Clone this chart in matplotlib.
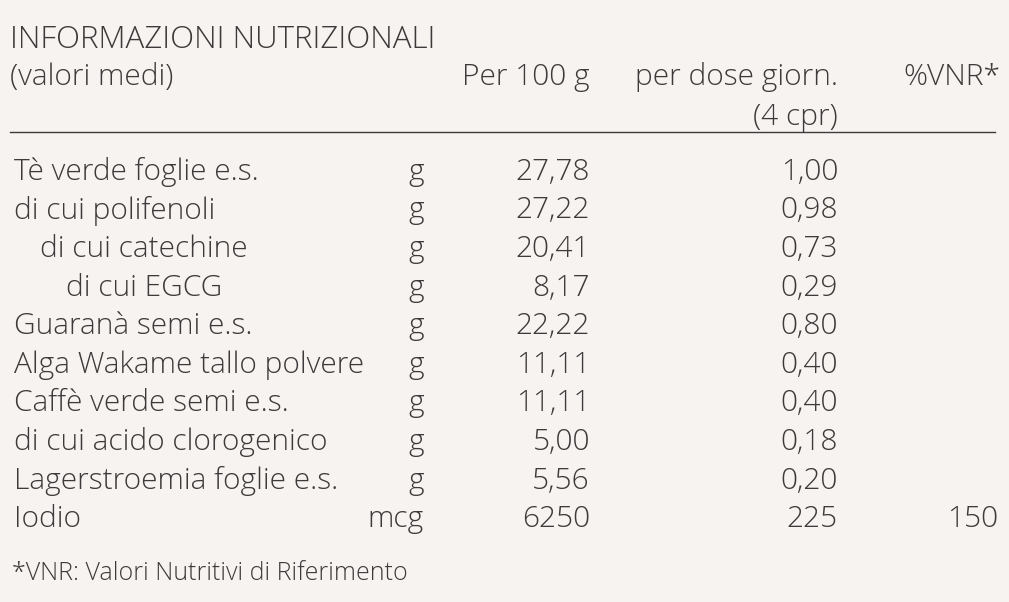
import matplotlib.pyplot as plt

plt.rcParams["font.family"] = ["Open Sans", "DejaVu Sans"]

names = ["Tè verde foglie e.s.", "di cui polifenoli", "di cui catechine", "di cui EGCG",
         "Guaranà semi e.s.", "Alga Wakame tallo polvere", "Caffè verde semi e.s.",
         "di cui acido clorogenico", "Lagerstroemia foglie e.s.", "Iodio"]
indent = [0, 0, 1, 2, 0, 0, 0, 0, 0, 0]
units = ["g"] * 9 + ["mcg"]
per100 = ["27,78", "27,22", "20,41", "8,17", "22,22", "11,11", "11,11", "5,00", "5,56", "6250"]
perdose = ["1,00", "0,98", "0,73", "0,29", "0,80", "0,40", "0,40", "0,18", "0,20", "225"]
vnr = [""] * 9 + ["150"]

W, H = 1009, 602
fig = plt.figure(figsize=(W / 100, H / 100), dpi=100)
fig.patch.set_facecolor("#f7f3f1")
ax = fig.add_axes([0, 0, 1, 1])
ax.set_xlim(0, W)
ax.set_ylim(H, 0)
ax.axis("off")

col = "#3c3a3a"
fs = 21.5
kw = dict(color=col, fontsize=fs, va="center", fontweight="light")

ax.text(10, 40, "INFORMAZIONI NUTRIZIONALI", color=col, fontsize=22.5,
        va="center", fontweight="light")
ax.text(10, 77, "(valori medi)", **kw)
ax.text(590, 77, "Per 100 g", ha="right", **kw)
ax.text(838, 77, "per dose giorn.", ha="right", **kw)
ax.text(838, 117, "(4 cpr)", ha="right", **kw)
ax.text(1000, 77, "%VNR*", ha="right", **kw)
ax.plot([10, 995], [132, 132], color=col, lw=1)

for i, n in enumerate(names):
    y = 172 + i * 38.6
    ax.text(14 + indent[i] * 26, y, n, **kw)
    ax.text(424, y, units[i], ha="right", **kw)
    ax.text(590, y, per100[i], ha="right", **kw)
    ax.text(838, y, perdose[i], ha="right", **kw)
    ax.text(998, y, vnr[i], ha="right", **kw)

ax.text(12, 573, "*VNR: Valori Nutritivi di Riferimento", color=col, fontsize=18,
        va="center", fontweight="light")

fig.savefig("out.png", dpi=100, facecolor=fig.get_facecolor())
